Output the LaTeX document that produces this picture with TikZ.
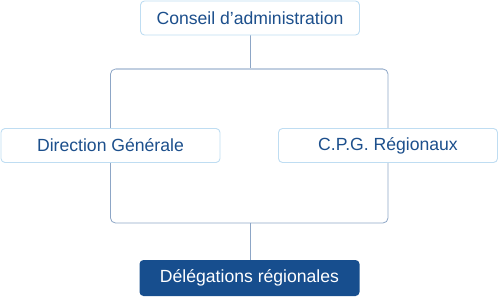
\documentclass[tikz,border=0pt]{standalone}
\usepackage{fontspec}
\setmainfont{Liberation Sans}
\usetikzlibrary{backgrounds}
\definecolor{txtblue}{HTML}{1C4F8C}
\definecolor{boxline}{HTML}{BFDDF2}
\definecolor{conn}{HTML}{8DA6C6}
\definecolor{darkbox}{HTML}{174E8E}
\begin{document}
\begin{tikzpicture}[x=1pt,y=-1pt,
  orgbox/.style={draw=boxline, line width=0.9pt, fill=white, rounded corners=4pt,
    minimum width=219pt, minimum height=34pt, inner sep=0pt,
    text=txtblue, font=\fontsize{17.6}{20}\selectfont},
  darkorg/.style={fill=darkbox, rounded corners=4pt,
    minimum width=220pt, minimum height=36pt, inner sep=0pt,
    text=white, font=\fontsize{17.6}{20}\selectfont},
  link/.style={draw=conn, line width=0.8pt},
  toplink/.style={draw=conn!55, line width=1.3pt}]
\useasboundingbox (0,0) rectangle (498,297);
\coordinate (ftop) at (0,69);
\coordinate (fbot) at (0,223);
\node[orgbox] (ca) at (250,18) {Conseil d’administration};
\node[orgbox] (dg) at (110.5,145.5) {Direction Générale};
\node[orgbox] (cpg) at (388,145.5) {C.P.G. Régionaux};
\node[darkorg] (dr) at (249.5,278) {Délégations régionales};
\begin{scope}[on background layer]
\draw[link] (ca.south) -- (ca.south |- ftop);
\draw[link, rounded corners=5pt] (dg.center |- ftop) rectangle (cpg.center |- fbot);
\draw[toplink] ([xshift=5pt]dg.center |- ftop) -- ([xshift=-5pt]cpg.center |- ftop);
\draw[link] (dr.north -| ca.south) -- (ca.south |- fbot);
\end{scope}
\end{tikzpicture}
\end{document}
